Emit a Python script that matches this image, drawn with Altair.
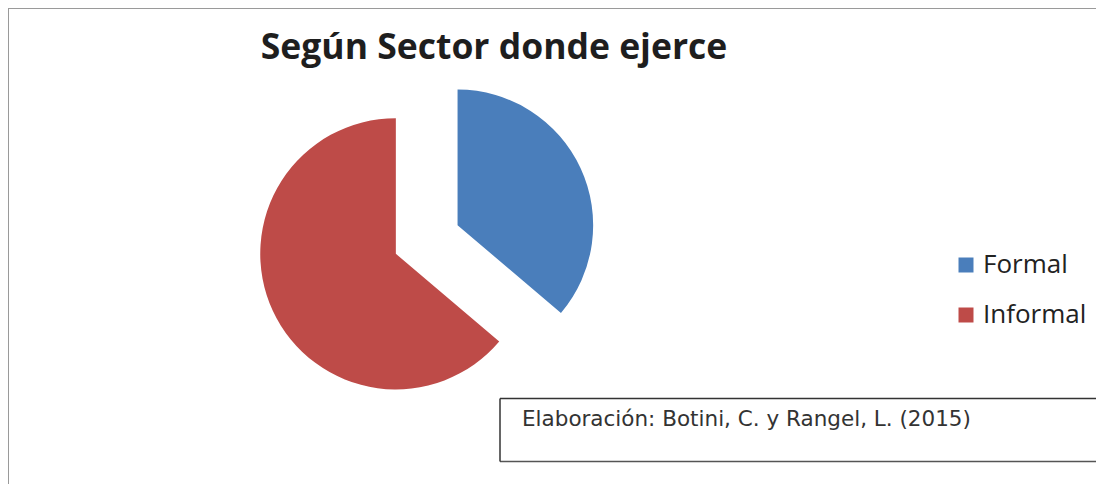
import altair as alt
import pandas as pd

# ---- data ----
categories = ["Formal", "Informal"]
values = [36.2, 63.8]
colors = ["#4A7EBB", "#BE4B48"]
title_text = ["Según Sector donde ejerce"]
source_text = ["Elaboración: Botini, C. y Rangel, L. (2015)"]

# ---- layout constants ----
W, H = 1088, 476
CX, CY, R, EXPLODE = 418.7, 231.5, 135.6, 34

df = pd.DataFrame({"sector": categories, "value": values,
                   "order": list(range(len(categories)))})

pie = (
    alt.Chart(df)
    .transform_joinaggregate(total="sum(value)")
    .transform_window(cum="sum(value)", sort=[alt.SortField("order")], frame=[None, 0])
    .transform_calculate(
        a0="(datum.cum - datum.value) / datum.total * 2 * PI",
        a1="datum.cum / datum.total * 2 * PI",
    )
    .transform_calculate(mid="(datum.a0 + datum.a1) / 2")
    .transform_calculate(
        px=f"{CX} + {EXPLODE} * sin(datum.mid)",
        py=f"{CY} - {EXPLODE} * cos(datum.mid)",
    )
    .mark_arc(radius=R, stroke=None)
    .encode(
        x=alt.X("px:Q", scale=None, axis=None),
        y=alt.Y("py:Q", scale=None, axis=None),
        theta=alt.Theta("a0:Q", scale=None),
        theta2="a1:Q",
        color=alt.Color(
            "sector:N",
            scale=alt.Scale(domain=categories, range=colors),
            legend=alt.Legend(
                orient="none", legendX=945, legendY=244, title=None,
                symbolType="square", symbolSize=225, symbolStrokeWidth=0,
                labelFontSize=26, labelFont="Open Sans", labelColor="#222222",
                rowPadding=24, labelOffset=4, padding=0,
            ),
        ),
    )
)

one = pd.DataFrame({"k": [0]})

frame_top = alt.Chart(one).mark_rule(color="#9a9a9a", strokeWidth=2).encode(
    x=alt.value(0), x2=alt.value(W), y=alt.value(0)
)
frame_left = alt.Chart(one).mark_rule(color="#9a9a9a", strokeWidth=2).encode(
    x=alt.value(0), y=alt.value(0), y2=alt.value(H)
)

title = alt.Chart(pd.DataFrame({"t": title_text})).mark_text(
    font="Open Sans", fontSize=35.5, fontWeight="bold", color="#1e1e1e",
    align="center", baseline="alphabetic",
).encode(x=alt.value(486), y=alt.value(50.5), text="t:N")

BOX_L, BOX_T, BOX_B = 492, 390.5, 453.5
box_top = alt.Chart(one).mark_rule(color="#333333", strokeWidth=1.5).encode(
    x=alt.value(BOX_L), x2=alt.value(W), y=alt.value(BOX_T)
)
box_bottom = alt.Chart(one).mark_rule(color="#555555", strokeWidth=1.5).encode(
    x=alt.value(BOX_L), x2=alt.value(W), y=alt.value(BOX_B)
)
box_left = alt.Chart(one).mark_rule(color="#333333", strokeWidth=1.5).encode(
    x=alt.value(BOX_L), y=alt.value(BOX_T), y2=alt.value(BOX_B)
)

source = alt.Chart(pd.DataFrame({"t": source_text})).mark_text(
    font="DejaVu Sans", fontSize=21.5, color="#333333",
    align="left", baseline="alphabetic",
).encode(x=alt.value(514), y=alt.value(418), text="t:N")

chart = (
    alt.layer(frame_top, frame_left, pie, title, box_top, box_bottom, box_left, source)
    .properties(width=W, height=H, padding=0,
                autosize=alt.AutoSizeParams(type="none"))
    .configure_view(stroke=None)
    .configure(background="white")
)

chart.save("out.html", embed_options={"renderer": "svg", "actions": False})
